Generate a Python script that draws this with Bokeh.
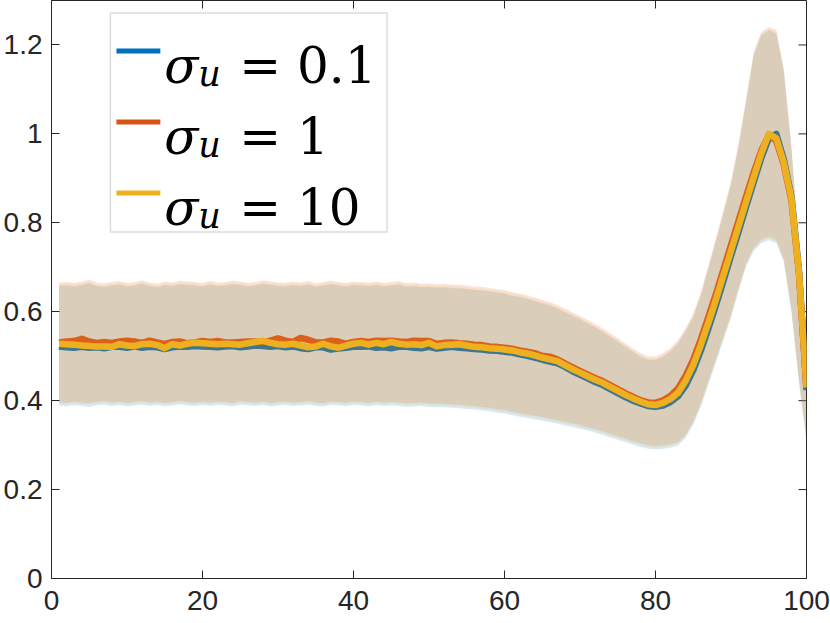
import numpy as np
from bokeh.plotting import figure
from bokeh.models import Range1d, FixedTicker, BoxAnnotation, Label, NumeralTickFormatter
from bokeh.embed import file_html
from bokeh.resources import INLINE

# ---------------- data ----------------
x_vals = list(range(1, 101))

mean_sigma_01 = [
    0.522, 0.520, 0.519, 0.521, 0.519, 0.520, 0.518, 0.521, 0.521, 0.519,
    0.522, 0.519, 0.521, 0.520, 0.516, 0.520, 0.522, 0.521, 0.523, 0.522,
    0.521, 0.520, 0.522, 0.523, 0.520, 0.522, 0.524, 0.523, 0.521, 0.523,
    0.520, 0.522, 0.518, 0.516, 0.520, 0.520, 0.515, 0.517, 0.519, 0.521,
    0.521, 0.522, 0.519, 0.520, 0.518, 0.521, 0.521, 0.519, 0.518, 0.521,
    0.517, 0.519, 0.521, 0.519, 0.518, 0.516, 0.515, 0.513, 0.512, 0.510,
    0.508, 0.504, 0.501, 0.497, 0.492, 0.488, 0.484, 0.476, 0.466, 0.458,
    0.450, 0.442, 0.435, 0.426, 0.417, 0.408, 0.400, 0.394, 0.388, 0.386,
    0.389, 0.397, 0.410, 0.434, 0.468, 0.512, 0.562, 0.614, 0.669, 0.725,
    0.780, 0.836, 0.891, 0.945, 0.990, 1.000, 0.942, 0.860, 0.694, 0.424,
]

mean_sigma_1 = [
    0.531, 0.533, 0.534, 0.539, 0.533, 0.530, 0.532, 0.530, 0.533, 0.535,
    0.533, 0.530, 0.535, 0.531, 0.527, 0.532, 0.533, 0.529, 0.531, 0.534,
    0.532, 0.534, 0.531, 0.531, 0.532, 0.533, 0.533, 0.532, 0.535, 0.540,
    0.535, 0.532, 0.541, 0.537, 0.531, 0.531, 0.535, 0.533, 0.528, 0.532,
    0.534, 0.532, 0.535, 0.534, 0.535, 0.533, 0.532, 0.535, 0.534, 0.534,
    0.528, 0.530, 0.531, 0.529, 0.528, 0.526, 0.525, 0.522, 0.521, 0.519,
    0.517, 0.513, 0.510, 0.507, 0.501, 0.499, 0.493, 0.484, 0.475, 0.467,
    0.459, 0.451, 0.444, 0.435, 0.426, 0.417, 0.409, 0.401, 0.396, 0.395,
    0.401, 0.411, 0.428, 0.456, 0.492, 0.538, 0.588, 0.640, 0.695, 0.750,
    0.805, 0.860, 0.913, 0.962, 0.998, 0.984, 0.930, 0.850, 0.686, 0.429,
]

mean_sigma_10 = [
    0.528, 0.527, 0.526, 0.524, 0.523, 0.522, 0.522, 0.521, 0.527, 0.524,
    0.523, 0.527, 0.528, 0.525, 0.518, 0.527, 0.524, 0.528, 0.530, 0.529,
    0.528, 0.527, 0.528, 0.527, 0.526, 0.529, 0.532, 0.535, 0.530, 0.527,
    0.526, 0.528, 0.524, 0.520, 0.522, 0.528, 0.522, 0.519, 0.524, 0.528,
    0.530, 0.526, 0.530, 0.527, 0.532, 0.528, 0.526, 0.527, 0.525, 0.530,
    0.522, 0.525, 0.526, 0.527, 0.524, 0.521, 0.520, 0.518, 0.517, 0.515,
    0.513, 0.509, 0.506, 0.502, 0.497, 0.493, 0.489, 0.480, 0.471, 0.463,
    0.455, 0.447, 0.440, 0.431, 0.422, 0.413, 0.405, 0.398, 0.392, 0.390,
    0.395, 0.404, 0.418, 0.445, 0.480, 0.525, 0.575, 0.627, 0.682, 0.737,
    0.792, 0.847, 0.902, 0.955, 1.000, 0.990, 0.935, 0.855, 0.690, 0.430,
]

band_upper = [
    0.662, 0.663, 0.661, 0.664, 0.668, 0.662, 0.660, 0.663, 0.665, 0.661,
    0.663, 0.667, 0.662, 0.659, 0.664, 0.662, 0.666, 0.664, 0.663, 0.661,
    0.665, 0.662, 0.663, 0.666, 0.664, 0.661, 0.663, 0.667, 0.664, 0.662,
    0.661, 0.664, 0.662, 0.665, 0.660, 0.663, 0.666, 0.663, 0.661, 0.664,
    0.663, 0.662, 0.664, 0.661, 0.663, 0.665, 0.660, 0.662, 0.659, 0.660,
    0.658, 0.659, 0.657, 0.657, 0.655, 0.653, 0.652, 0.650, 0.647, 0.645,
    0.640, 0.637, 0.633, 0.628, 0.623, 0.618, 0.611, 0.603, 0.595, 0.587,
    0.578, 0.569, 0.559, 0.548, 0.537, 0.525, 0.514, 0.503, 0.496, 0.496,
    0.503, 0.515, 0.533, 0.560, 0.592, 0.640, 0.700, 0.762, 0.825, 0.890,
    0.975, 1.075, 1.180, 1.225, 1.237, 1.230, 1.143, 0.970, 0.745, 0.505,
]

band_lower = [
    0.393, 0.391, 0.394, 0.392, 0.390, 0.393, 0.395, 0.392, 0.394, 0.391,
    0.393, 0.395, 0.392, 0.394, 0.391, 0.393, 0.396, 0.393, 0.392, 0.394,
    0.392, 0.394, 0.393, 0.391, 0.395, 0.393, 0.392, 0.394, 0.391, 0.393,
    0.394, 0.392, 0.393, 0.395, 0.392, 0.391, 0.394, 0.393, 0.392, 0.394,
    0.393, 0.391, 0.394, 0.392, 0.393, 0.392, 0.390, 0.391, 0.392, 0.390,
    0.389, 0.389, 0.388, 0.387, 0.385, 0.384, 0.382, 0.380, 0.377, 0.375,
    0.371, 0.368, 0.365, 0.362, 0.359, 0.356, 0.352, 0.348, 0.345, 0.341,
    0.337, 0.332, 0.327, 0.321, 0.316, 0.311, 0.305, 0.300, 0.296, 0.294,
    0.295, 0.298, 0.303, 0.320, 0.350, 0.390, 0.440, 0.490, 0.540, 0.590,
    0.650, 0.705, 0.740, 0.758, 0.765, 0.758, 0.715, 0.603, 0.445, 0.310,
]

# small per-series offset of each shaded band relative to the shared band
band_offsets = [-0.004, 0.004, 0.0]

series_values = ["0.1", "1", "10"]
series_colors = ["#0072BD", "#D95319", "#EDB120"]

x_ticks = [0, 20, 40, 60, 80, 100]
x_tick_labels = ["0", "20", "40", "60", "80", "100"]
y_ticks = [0, 0.2, 0.4, 0.6, 0.8, 1.0, 1.2]
y_tick_labels = ["0", "0.2", "0.4", "0.6", "0.8", "1", "1.2"]

X_MAX = 100
Y_MAX = 1.3

# ---------------- layout ----------------
W, H = 830, 623
ML, MR, MT, MB = 50, 24, 0, 45
FRAME_W = W - ML - MR
FRAME_H = H - MT - MB
PX_PER_X = FRAME_W / X_MAX
PX_PER_Y = FRAME_H / Y_MAX
TICK_LEN = 8

AX_COLOR = "#262626"
TICK_FONT = "Liberation Sans"

p = figure(width=W, height=H, output_backend="svg", toolbar_location=None,
           x_range=Range1d(0, X_MAX), y_range=Range1d(0, Y_MAX),
           min_border_left=ML, min_border_right=MR,
           min_border_top=MT, min_border_bottom=MB)
p.grid.visible = False
p.outline_line_color = AX_COLOR
p.outline_line_width = 1
p.background_fill_color = "white"
p.border_fill_color = "white"


def style_axis(ax, standoff):
    ax.axis_line_color = AX_COLOR
    ax.axis_line_width = 1
    ax.major_tick_line_color = AX_COLOR
    ax.major_tick_in = TICK_LEN
    ax.major_tick_out = 0
    ax.minor_tick_line_color = None
    ax.major_label_text_color = AX_COLOR
    ax.major_label_text_font = TICK_FONT
    ax.major_label_text_font_size = "28px"
    ax.major_label_standoff = standoff


xa = p.xaxis[0]
xa.ticker = FixedTicker(ticks=x_ticks)
xa.major_label_overrides = {str(t): l for t, l in zip(x_ticks, x_tick_labels)}
style_axis(xa, 12)

ya = p.yaxis[0]
ya.ticker = FixedTicker(ticks=y_ticks)
ya.formatter = NumeralTickFormatter(format="0.[0]")
ya.major_label_overrides = {str(t): l for t, l in zip(y_ticks, y_tick_labels)}
style_axis(ya, 9)

# mirrored ticks on the top and right edges of the box (MATLAB "box on")
p.segment(x0=x_ticks, x1=x_ticks,
          y0=[Y_MAX] * len(x_ticks), y1=[Y_MAX - TICK_LEN / PX_PER_Y] * len(x_ticks),
          line_color=AX_COLOR, line_width=1)
p.segment(x0=[X_MAX] * len(y_ticks), x1=[X_MAX - TICK_LEN / PX_PER_X] * len(y_ticks),
          y0=y_ticks, y1=y_ticks, line_color=AX_COLOR, line_width=1)

# ---------------- bands and lines ----------------
means = [mean_sigma_01, mean_sigma_1, mean_sigma_10]
up = np.array(band_upper)
lo = np.array(band_lower)

for m, off, c in zip(means, band_offsets, series_colors):
    p.varea(x=x_vals, y1=lo + off, y2=up + off, fill_color=c, fill_alpha=0.15)
    p.line(x=x_vals, y=m, line_color=c, line_width=6.5, line_join="round")


# ---------------- legend (drawn like the MATLAB legend) ----------------
def dx(px):   # canvas pixel -> data x
    return (px - ML) / PX_PER_X


def dy(py):   # canvas pixel -> data y
    return ((MT + FRAME_H) - py) / PX_PER_Y


p.add_layout(BoxAnnotation(left=dx(109), right=dx(386), top=dy(12.5), bottom=dy(231.5),
                           fill_color="white", fill_alpha=1.0,
                           line_color="#8c8c8c", line_width=1.5))

row_baselines = [65, 136, 207]
for val, c, base in zip(series_values, series_colors, row_baselines):
    mid = base - 14.5
    p.add_layout(BoxAnnotation(left=dx(115), right=dx(159), top=dy(mid - 2.5), bottom=dy(mid + 2.5),
                               fill_color=c, fill_alpha=1.0, line_color=None, line_alpha=0))
    p.add_layout(Label(x=dx(163), y=dy(base), text="σ", text_font="DejaVu Serif",
                       text_font_style="italic", text_font_size="50px",
                       text_baseline="alphabetic", text_align="left", text_color="black"))
    p.add_layout(Label(x=dx(197), y=dy(base + 8), text="u", text_font="DejaVu Serif",
                       text_font_style="italic", text_font_size="35px",
                       text_baseline="alphabetic", text_align="left", text_color="black"))
    p.add_layout(Label(x=dx(238), y=dy(base), text="= " + val, text_font="DejaVu Serif",
                       text_font_size="50px",
                       text_baseline="alphabetic", text_align="left", text_color="black"))

open("out.html", "w").write(file_html(p, INLINE))
